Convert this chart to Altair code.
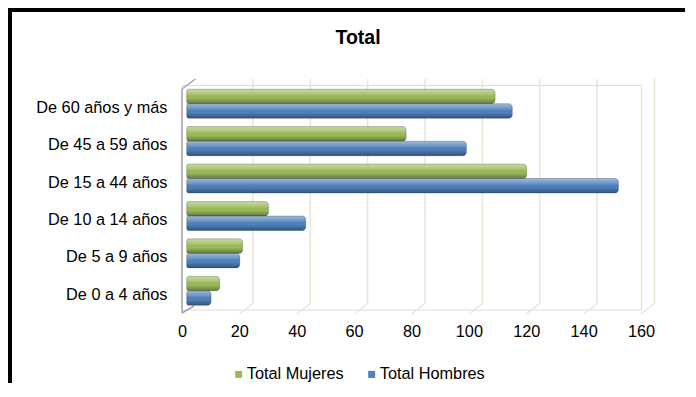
import altair as alt
import pandas as pd

categorias = ["De 0 a 4 años", "De 5 a 9 años", "De 10 a 14 años",
              "De 15 a 44 años", "De 45 a 59 años", "De 60 años y más"]
mujeres = [10, 18, 27, 117, 75, 106]
hombres = [7, 17, 40, 149, 96, 112]
series = ["Total Mujeres", "Total Hombres"]
colores = ["#9bbb59", "#4f81bd"]
ticks_x = [0, 20, 40, 60, 80, 100, 120, 140, 160]

rows = []
for c, m, h in zip(categorias, mujeres, hombres):
    rows.append({"cat": c, "serie": series[0], "valor": m})
    rows.append({"cat": c, "serie": series[1], "valor": h})
df = pd.DataFrame(rows)
grid_df = pd.DataFrame({"v": ticks_x[1:]})
one = pd.DataFrame({"k": [0]})

FONT = "Liberation Sans"
FS = 16.3
W, H = 459, 224.5
TOTAL_W, TOTAL_H = 680, 375
DX = 13.5  # depth offset of back wall

y_enc = alt.Y("cat:N", sort=list(reversed(categorias)),
              scale=alt.Scale(paddingInner=0, paddingOuter=0),
              axis=alt.Axis(title=None, domain=False, ticks=False, labelFont=FONT,
                            labelFontSize=FS, labelColor="#000", labelPadding=15,
                            labelOffset=4))
x_scale = alt.Scale(domain=[0, 160], nice=False, zero=True)
x_axis = alt.Axis(title=None, values=ticks_x, grid=False, domain=False, ticks=False,
                  labelFlush=False, labelFont=FONT, labelFontSize=FS, labelColor="#000",
                  labelPadding=14)
yoff = alt.YOffset("serie:N", sort=series,
                   scale=alt.Scale(domain=series, paddingInner=0, paddingOuter=0.29))

frame_top = alt.Chart(one).mark_rule(color="#000", strokeWidth=4).encode(
    x=alt.value(8 - 182), x2=alt.value(8 + TOTAL_W - 182 - 3), y=alt.value(10 - 85))
frame_left = alt.Chart(one).mark_rule(color="#000", strokeWidth=4).encode(
    x=alt.value(10 - 182), y=alt.value(8 - 85), y2=alt.value(8 + TOTAL_H - 85))

grid_v = alt.Chart(grid_df).mark_rule(color="#e9e6d6", strokeWidth=1.5, xOffset=DX, x2Offset=DX).encode(
    x=alt.X("v:Q", scale=x_scale, axis=x_axis), x2="v:Q",
    y=alt.value(-6), y2=alt.value(218.5))
grid_d = alt.Chart(grid_df).mark_rule(color="#e9e6d6", strokeWidth=1.5, xOffset=DX, x2Offset=0).encode(
    x=alt.X("v:Q", scale=x_scale), x2="v:Q",
    y=alt.value(218.5), y2=alt.value(229))

wall_v = alt.Chart(one).mark_rule(color="#a6a6a6", strokeWidth=1.5).encode(
    x=alt.datum(0, scale=x_scale), y=alt.value(4), y2=alt.value(228))
wall_t = alt.Chart(one).mark_rule(color="#a6a6a6", strokeWidth=1.5, x2Offset=DX).encode(
    x=alt.datum(0, scale=x_scale), x2=alt.datum(0), y=alt.value(4), y2=alt.value(-6))
wall_b = alt.Chart(one).mark_rule(color="#a6a6a6", strokeWidth=1.5, x2Offset=12).encode(
    x=alt.datum(0, scale=x_scale), x2=alt.datum(0), y=alt.value(228), y2=alt.value(221))

bar_kw = dict(xOffset=9, x2Offset=4.7, cornerRadiusTopRight=3.5, cornerRadiusBottomRight=3.5,
              cornerRadiusTopLeft=2, cornerRadiusBottomLeft=2)
bars = alt.Chart(df).mark_bar(**bar_kw).encode(
    y=y_enc, yOffset=yoff,
    x=alt.X("valor:Q", scale=x_scale, axis=x_axis), x2=alt.datum(0),
    color=alt.Color("serie:N", sort=series,
                    scale=alt.Scale(domain=series, range=colores),
                    legend=alt.Legend(title=None, orient="none", direction="horizontal",
                                      legendX=48.5, legendY=281, symbolType="square",
                                      symbolSize=49, symbolStrokeWidth=0, labelFont=FONT,
                                      labelFontSize=FS, labelColor="#000", labelOffset=0,
                                      columnPadding=19, symbolOpacity=1)))

shade = alt.Gradient(gradient="linear", x1=0, x2=0, y1=0, y2=1, stops=[
    alt.GradientStop(offset=0, color="rgba(255,255,255,0.45)"),
    alt.GradientStop(offset=0.35, color="rgba(255,255,255,0.15)"),
    alt.GradientStop(offset=0.6, color="rgba(0,0,0,0)"),
    alt.GradientStop(offset=1, color="rgba(0,0,0,0.35)")])
overlay = alt.Chart(df).mark_bar(fill=shade, stroke="rgba(0,0,0,0.25)", strokeWidth=0.8, **bar_kw).encode(
    y=alt.Y("cat:N", sort=list(reversed(categorias))), yOffset=yoff,
    x=alt.X("valor:Q", scale=x_scale), x2=alt.datum(0))

title = alt.Chart(one).mark_text(text="Total", font=FONT, fontSize=19.5, fontWeight="bold",
                                 align="center", baseline="alphabetic", color="#000").encode(
    x=alt.value(358 - 182), y=alt.value(44 - 85))

chart = alt.layer(frame_top, frame_left, grid_v, grid_d, wall_v, wall_t, wall_b,
                  bars, overlay, title).properties(
    width=W, height=H,
    autosize=alt.AutoSizeParams(type="none"),
    padding={"left": 174, "top": 77, "right": TOTAL_W - 174 - W, "bottom": TOTAL_H - 77 - H},
).configure_view(strokeWidth=0).configure(background="white")

chart.save("out.html", embed_options={"renderer": "svg", "actions": False})
